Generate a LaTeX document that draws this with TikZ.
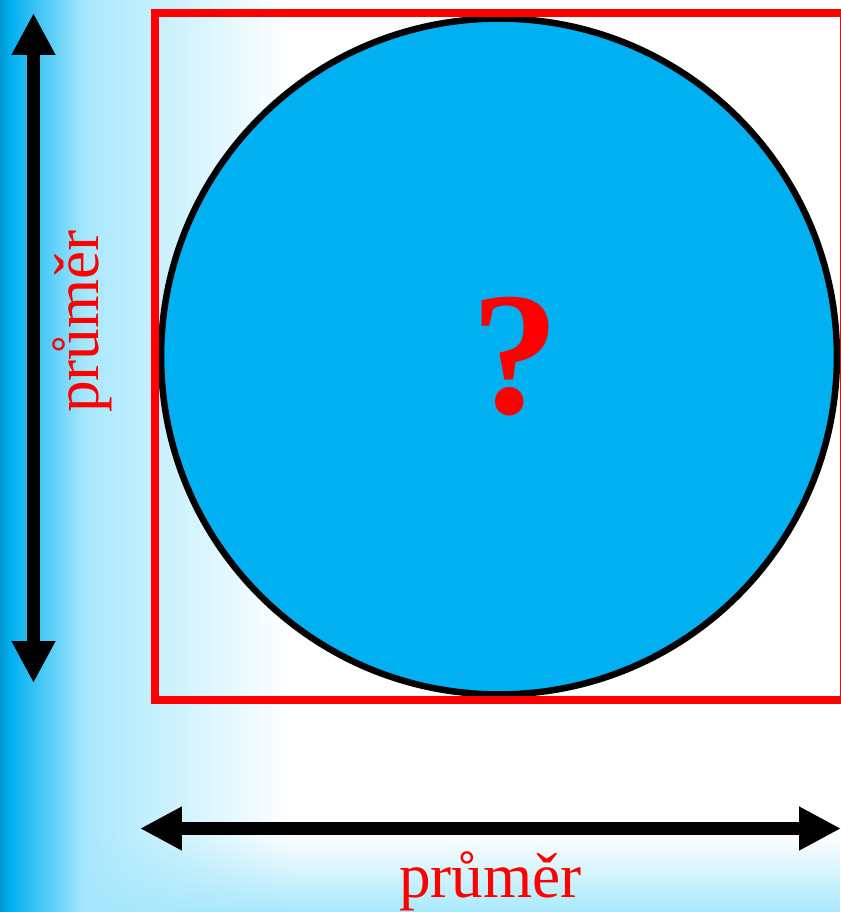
\documentclass[tikz,border=0pt]{standalone}
\usepackage{fontspec}
\setmainfont{Liberation Serif}
\usetikzlibrary{arrows.meta, fadings}

\definecolor{diskblue}{HTML}{00B0F0}
\definecolor{bgdeep}{HTML}{0098D0}
\definecolor{bgsoft}{HTML}{A8E8FC}
\tikzfading[name=fadeup, top color=transparent!100, bottom color=transparent!0]

\begin{document}
\begin{tikzpicture}[x=0.02cm, y=-0.02cm,
    dimarr/.style={{Triangle[length=0.84cm, width=0.82cm]}-{Triangle[length=0.84cm, width=0.82cm]}, line width=0.26cm},
    lbl/.style={text=red, font=\fontsize{36}{40}\selectfont, inner sep=0pt}
  ]
  \useasboundingbox (0,0) rectangle (841,912);

  % background
  \fill[left color=bgdeep, right color=diskblue] (0,0) rectangle (10,912);
  \fill[left color=diskblue, right color=bgsoft] (10,0) rectangle (85,912);
  \fill[left color=bgsoft, right color=white] (85,0) rectangle (290,912);
  \fill[bgsoft, path fading=fadeup] (85,835) rectangle (841,912);

  \node[circle, draw=black, fill=diskblue, line width=0.13cm, minimum size=13.52cm, inner sep=0pt] (disk) at (499,356.5) {};
  \node[rectangle, draw=red, line width=0.16cm, minimum width=13.78cm, minimum height=13.75cm, inner sep=0pt] (frame) at (499.5,356.75) {};
  \node[text=red, font=\fontsize{100}{110}\selectfont\bfseries, anchor=base, inner sep=0pt] (qmark) at (515,413) {?};

  \coordinate (vtop) at (33.5,13);
  \coordinate (vbot) at (33.5,683);
  \coordinate (hleft) at (140,828.5);
  \coordinate (hright) at (841,828.5);
  \draw[dimarr] (vtop) -- (vbot);
  \draw[dimarr] (hleft) -- (hright);

  \node[lbl, rotate=90] (sidelbl) at (82,321.5) {průměr};
  \node[lbl, anchor=base] (baselbl) at (490.5,897) {průměr};
\end{tikzpicture}
\end{document}
